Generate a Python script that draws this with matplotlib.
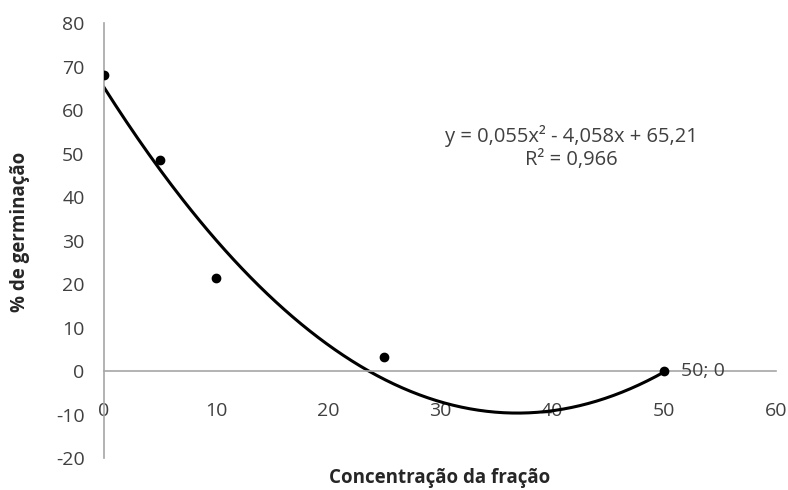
import matplotlib
matplotlib.use("Agg")
import matplotlib.pyplot as plt
import numpy as np

# observed points
concentracao = [0, 5, 10, 25, 50]
germinacao = [68, 48.5, 21.3, 3.3, 0]

# polynomial trend line shown on the chart (y = 0,055x² - 4,058x + 65,21)
coef = [0.055, -4.058, 65.21]
equacao = "y = 0,055x² - 4,058x + 65,21\nR² = 0,966"
rotulo_ultimo = "50; 0"

xticks = [0, 10, 20, 30, 40, 50, 60]
yticks = [-20, -10, 0, 10, 20, 30, 40, 50, 60, 70, 80]


def main():
    plt.rcParams['font.family'] = ['Open Sans', 'DejaVu Sans']
    plt.rcParams['axes.unicode_minus'] = False
    fs = 14
    fig = plt.figure(figsize=(7.88, 4.9), dpi=100)
    ax = fig.add_axes([0.132, 0.065, 0.853, 0.888])

    xs = np.linspace(concentracao[0], concentracao[-1], 200)
    ax.plot(xs, np.polyval(coef, xs), color='black', lw=2.2, zorder=2)
    ax.plot(concentracao, germinacao, 'o', color='black', ms=6, zorder=3)

    ax.annotate(rotulo_ultimo, (concentracao[-1], germinacao[-1]),
                xytext=(12, 0), textcoords='offset points',
                ha='left', va='center', fontsize=fs, color='#404040')
    ax.text(41.7, 51.3, equacao, ha='center', va='center', fontsize=14.5,
            color='#404040', linespacing=1.2)

    ax.set_xlim(0, 60)
    ax.set_ylim(-20, 80)
    ax.set_xticks(xticks)
    ax.set_yticks(yticks)

    ax.spines['top'].set_visible(False)
    ax.spines['right'].set_visible(False)
    ax.spines['left'].set_position(('data', 0))
    ax.spines['bottom'].set_position(('data', 0))
    for s in ('left', 'bottom'):
        ax.spines[s].set_color('#a6a6a6')
        ax.spines[s].set_linewidth(1.2)

    ax.tick_params(axis='x', length=0, pad=22, labelsize=fs, labelcolor='#404040')
    ax.tick_params(axis='y', length=0, pad=14, labelsize=fs, labelcolor='#404040')

    ax.set_xlabel("Concentração da fração", fontsize=13.5, fontweight='bold',
                  color='#262626')
    ax.set_ylabel("% de germinação", fontsize=13.5, fontweight='bold',
                  color='#262626')
    ax.xaxis.set_label_coords(0.5, -0.022)
    ax.yaxis.set_label_coords(-0.11, 0.52)

    fig.savefig("out.png", dpi=100)


if __name__ == "__main__":
    main()
